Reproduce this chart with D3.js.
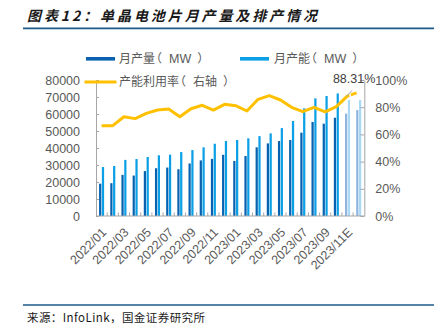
<!DOCTYPE html>
<html>
<head>
<meta charset="utf-8">
<script src="https://cdn.jsdelivr.net/npm/d3@7"></script>
<style>
  body { margin: 0; background: #fff; }
  svg { display: block; }
  .halt { font-feature-settings: "halt" 1; }
</style>
</head>
<body>
<svg id="chart" width="434" height="325"></svg>
<script>
// Monthly mono-crystalline cell output vs. capacity, with utilisation rate
const months = [
  "2022/01","2022/02","2022/03","2022/04","2022/05","2022/06",
  "2022/07","2022/08","2022/09","2022/10","2022/11","2022/12",
  "2023/01","2023/02","2023/03","2023/04","2023/05","2023/06",
  "2023/07","2023/08","2023/09","2023/10","2023/11E","2023/12E"
];
const production = [
  19000, 19300, 24200, 23800, 26400, 28100, 28500, 27500, 30900, 32700, 33600, 36000,
  32400, 35300, 40400, 42700, 44100, 44700, 49000, 55300, 54300, 57800, 60200, 62300
];
const capacity = [
  28800, 29400, 33000, 33500, 34700, 35700, 36100, 37600, 38800, 40400, 42500, 44100,
  44700, 45700, 47000, 48600, 51700, 55900, 63300, 69200, 70600, 72100, 68200, 68200
];
const utilization = [
  66.4, 66.4, 73.0, 71.6, 75.5, 77.9, 78.7, 73.0, 78.9, 81.4, 77.9, 82.1,
  81.1, 77.2, 85.8, 88.5, 85.3, 79.9, 76.7, 79.9, 76.5, 80.4, 88.31, 91.0
];
const leftTicks = [0, 10000, 20000, 30000, 40000, 50000, 60000, 70000, 80000];
const rightTicks = [0, 20, 40, 60, 80, 100];
// legend entries: name, bracketed unit/note
const legendNames = ["月产量", "月产能", "产能利用率"];
const legendNotes = ["MW", "MW", "右轴"];
const firstEstimate = 22; // 2023/11E onwards are forecasts

const colors = {
  prod: "#0862b0", cap: "#0ba0e6",
  prodEst: "#8fb5de", capEst: "#a9d9f5",
  line: "#FFC000", axis: "#a6a6a6", text: "#595959"
};

const svg = d3.select("#chart");
const plot = { left: 96, right: 364.3, top: 80, bottom: 216 };

// Title and rules
svg.append("text")
  .attr("x", 27).attr("y", 21)
  .attr("textLength", 290).attr("lengthAdjust", "spacing")
  .style("font-family", "'Noto Sans CJK SC', sans-serif")
  .style("font-size", "14px").style("font-weight", "bold").style("font-style", "italic")
  .attr("fill", "#1a1a1a")
  .text("图表12：单晶电池片月产量及排产情况");
svg.append("line").attr("x1", 23).attr("x2", 434).attr("y1", 28.3).attr("y2", 28.3)
  .attr("stroke", "#1d5a8a").attr("stroke-width", 1.8);
svg.append("line").attr("x1", 23).attr("x2", 434).attr("y1", 305).attr("y2", 305)
  .attr("stroke", "#1d5a8a").attr("stroke-width", 1.3);
svg.append("text")
  .attr("x", 27).attr("y", 322)
  .attr("textLength", 178).attr("lengthAdjust", "spacing")
  .style("font-family", "'Noto Sans CJK SC', sans-serif")
  .style("font-size", "11.5px").attr("fill", "#1a1a1a")
  .text("来源：InfoLink，国金证券研究所");

// Scales
const x0 = d3.scaleBand().domain(months).range([plot.left, plot.right])
  .paddingInner(0.55).paddingOuter(0.275);
const x1 = d3.scaleBand().domain(["prod", "cap"]).range([0, x0.bandwidth()]).paddingInner(0.2);
const yL = d3.scaleLinear().domain([0, 80000]).range([plot.bottom, plot.top]);
const yR = d3.scaleLinear().domain([0, 100]).range([plot.bottom, plot.top]);
const cx = m => x0(m) + x0.bandwidth() / 2;

// Bars
const groups = svg.append("g").selectAll("g").data(months).join("g")
  .attr("transform", m => `translate(${x0(m)},0)`);
groups.append("rect")
  .attr("x", x1("prod")).attr("width", x1.bandwidth())
  .attr("y", (m, i) => yL(production[i]))
  .attr("height", (m, i) => yL(0) - yL(production[i]))
  .attr("fill", (m, i) => i >= firstEstimate ? colors.prodEst : colors.prod);
groups.append("rect")
  .attr("x", x1("cap")).attr("width", x1.bandwidth())
  .attr("y", (m, i) => yL(capacity[i]))
  .attr("height", (m, i) => yL(0) - yL(capacity[i]))
  .attr("fill", (m, i) => i >= firstEstimate ? colors.capEst : colors.cap);

// Axes
const axisFont = g => g.selectAll("text")
  .style("font-family", "'Liberation Sans', Arial, sans-serif")
  .style("font-size", "12.5px").attr("fill", colors.text);

const leftAxis = svg.append("g").attr("transform", `translate(${plot.left},0)`)
  .call(d3.axisLeft(yL).tickValues(leftTicks).tickFormat(d3.format("d"))
    .tickSizeInner(-3).tickSizeOuter(0).tickPadding(16));
leftAxis.call(axisFont);
leftAxis.selectAll("line, path").attr("stroke", colors.axis);

const rightAxis = svg.append("g").attr("transform", `translate(${plot.right},0)`)
  .call(d3.axisRight(yR).tickValues(rightTicks).tickFormat(d => d + "%")
    .tickSizeInner(-4).tickSizeOuter(0).tickPadding(11));
rightAxis.call(axisFont);
rightAxis.selectAll("line, path").attr("stroke", colors.axis);

// Bottom axis: boundary ticks pointing inward, rotated labels on every other month
const bottom = svg.append("g");
bottom.append("line")
  .attr("x1", plot.left).attr("x2", plot.right)
  .attr("y1", plot.bottom).attr("y2", plot.bottom)
  .attr("stroke", colors.axis).attr("stroke-width", 1.2);
const step = x0.step();
bottom.selectAll("line.tick").data(months.slice(1)).join("line").attr("class", "tick")
  .attr("x1", m => x0(m) - step * 0.275).attr("x2", m => x0(m) - step * 0.275)
  .attr("y1", plot.bottom).attr("y2", plot.bottom - 3.5)
  .attr("stroke", colors.axis);
bottom.selectAll("text").data(months.filter((m, i) => i % 2 === 0)).join("text")
  .attr("transform", m => `translate(${cx(m) + 2.5},${plot.bottom + 14}) rotate(-45)`)
  .attr("text-anchor", "end")
  .attr("dy", "0.35em")
  .style("font-family", "'Liberation Sans', Arial, sans-serif")
  .style("font-size", "12.5px").attr("fill", colors.text)
  .text(m => m);

// Utilisation line (solid for actuals, dashed into the forecast)
const pts = months.map((m, i) => [cx(m), yR(utilization[i])]);
const line = d3.line();
svg.append("path").attr("d", line(pts.slice(0, firstEstimate + 1)))
  .attr("fill", "none").attr("stroke", colors.line).attr("stroke-width", 3)
  .attr("stroke-linejoin", "round");
svg.append("path").attr("d", line(pts.slice(firstEstimate)))
  .attr("fill", "none").attr("stroke", colors.line).attr("stroke-width", 3)
  .attr("stroke-dasharray", "2,1.5,6,10");

// Data label for 2023/11E
const lp = pts[firstEstimate];
svg.append("line")
  .attr("x1", lp[0] - 1).attr("y1", lp[1] + 0.5)
  .attr("x2", lp[0] + 4.5).attr("y2", lp[1] - 5.5)
  .attr("stroke", "#a6a6a6").attr("stroke-width", 1);
svg.append("text")
  .attr("x", lp[0] + 6.6).attr("y", lp[1] - 17)
  .attr("dy", "0.35em").attr("text-anchor", "middle")
  .style("font-family", "'Liberation Sans', Arial, sans-serif")
  .style("font-size", "12.5px").attr("fill", "#404040")
  .text(d3.format(".2f")(utilization[firstEstimate]) + "%");

// Legend: label with half-width-trimmed brackets spaced around the note
function legendText(sel, x, y, i) {
  const t = sel.append("text").attr("x", x).attr("y", y).attr("dy", "0.35em")
    .style("font-family", "'Noto Sans CJK SC', sans-serif")
    .style("font-size", "12px").attr("fill", colors.text);
  t.append("tspan").text(legendNames[i]);
  t.append("tspan").attr("class", "halt").attr("dx", 1).text("（");
  t.append("tspan").attr("dx", 7)
    .style("font-family", i < 2 ? "'Liberation Sans', Arial, sans-serif" : null)
    .style("font-size", i < 2 ? "12.5px" : null)
    .text(legendNotes[i]);
  t.append("tspan").attr("class", "halt").attr("dx", 6).text("）");
}
const legend = svg.append("g");
legend.append("rect").attr("x", 86).attr("y", 57).attr("width", 29).attr("height", 3.6)
  .attr("fill", colors.prod);
legendText(legend, 119, 59, 0);
legend.append("rect").attr("x", 240).attr("y", 57).attr("width", 29).attr("height", 3.6)
  .attr("fill", colors.cap);
legendText(legend, 274, 59, 1);
legend.append("line").attr("x1", 84.5).attr("x2", 116.5).attr("y1", 82).attr("y2", 82)
  .attr("stroke", colors.line).attr("stroke-width", 3.2);
legendText(legend, 119, 81.5, 2);
</script>
</body>
</html>
